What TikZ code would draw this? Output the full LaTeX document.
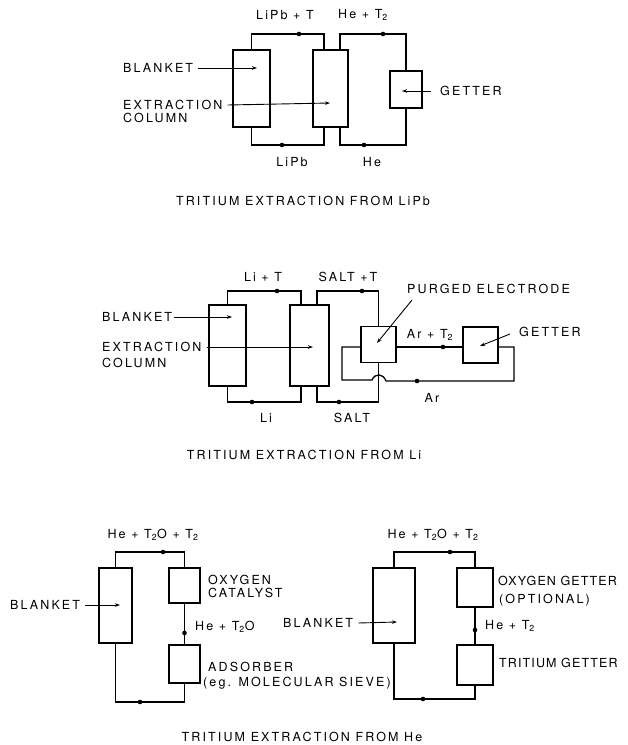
\documentclass[tikz,border=0pt]{standalone}
\usepackage{fontspec}
\setmainfont{TeX Gyre Heros}[LetterSpace=17]
\usepackage{tikz}
\usetikzlibrary{arrows.meta,positioning,calc}

\begin{document}
\begin{tikzpicture}[x=1pt,y=-1pt,
box/.style={draw,line width=1.8pt,inner sep=0pt},
lbl/.style={inner sep=0pt,font=\fontsize{12.5}{13}\selectfont},
edge lbl/.style={lbl,font=\fontsize{12.5}{13}\selectfont\addfontfeatures{LetterSpace=9}},
flow/.style={line width=1.3pt},
ptr/.style={-{Stealth[length=5pt,width=3.5pt]},line width=0.9pt},
dot/.style={circle,fill,inner sep=0pt,minimum size=4.6pt}
]
\useasboundingbox (0,0) rectangle (628,745);

% --- tritium extraction from LiPb
\node[box,minimum width=37,minimum height=77] (blk1) at (251.5,88.5) {};
\node[box,minimum width=35,minimum height=77] (col1) at (330.5,88.5) {};
\node[box,minimum width=32,minimum height=37] (get1) at (406,89.5) {};
\coordinate (t1) at (0,34);
\coordinate (b1) at (0,145);
\draw[flow] (blk1.north) |- ([xshift=-6.5]col1.north |- t1) -- ([xshift=-6.5]col1.north);
\draw[flow] ([xshift=9.5]col1.north) |- (get1.north |- t1) -- (get1.north);
\draw[flow] (blk1.south) |- ([xshift=-6.5]col1.south |- b1) -- ([xshift=-6.5]col1.south);
\draw[flow] ([xshift=9.5]col1.south) |- (get1.south |- b1) -- (get1.south);
\node[dot] at (299,34) {};
\node[dot] at (383,34) {};
\node[dot] at (282,145) {};
\node[dot] at (364,145) {};
\node[lbl] (f1a) at (285,15) {LiPb + T};
\node[lbl] (f1b) at (363,15) {He + T\textsubscript{2}};
\node[lbl] (f1c) at (292,162) {LiPb};
\node[lbl] (f1d) at (372,162) {He};
\node[lbl,anchor=west] (bl1) at (123,68) {BLANKET};
\node[lbl,anchor=west] (ex1) at (123,105) {EXTRACTION};
\node[lbl,anchor=west] (co1) at (123,118) {COLUMN};
\node[lbl,anchor=west] (gl1) at (440,91) {GETTER};
\coordinate (p1a) at (257,68);
\coordinate (p1b) at (330,103);
\coordinate (p1c) at (402,91);
\draw[ptr] ([xshift=5]bl1.east) -- (p1a);
\draw[ptr] ([xshift=5]ex1.east) -- (p1b);
\draw[ptr] ([xshift=-9]gl1.west) -- (p1c);
\node[lbl] (ttl1) at (303,201) {TRITIUM EXTRACTION FROM LiPb};

% --- tritium extraction from Li
\node[box,minimum width=37,minimum height=81] (blk2) at (227.5,345.5) {};
\node[box,minimum width=39,minimum height=81] (col2) at (309.5,345.5) {};
\node[box,minimum width=35,minimum height=36] (ele2) at (378.5,344.5) {};
\node[box,minimum width=35,minimum height=36] (get2) at (480.5,345) {};
\coordinate (t2) at (0,291);
\coordinate (b2) at (0,402);
\draw[flow] (blk2.north) |- ([xshift=-8.5]col2.north |- t2) -- ([xshift=-8.5]col2.north);
\draw[flow] ([xshift=7.5]col2.north) |- (ele2.north |- t2) -- (ele2.north);
\draw[flow] (blk2.south) |- ([xshift=-8.5]col2.south |- b2) -- ([xshift=-8.5]col2.south);
\draw[flow] ([xshift=7.5]col2.south) |- (ele2.south |- b2) -- (ele2.south);
\draw[flow] ([yshift=-2.5]ele2.east) -- ([yshift=-2]get2.west);
\draw[flow] ([yshift=-2]get2.east) -- (514,347) -- (514,381) -- (386,381)
  .. controls (383,373) and (375,373) .. (372,380) -- (342,380) |- ([yshift=-2.5]ele2.west);
\node[dot] at (277,291) {};
\node[dot] at (362,291) {};
\node[dot] at (252,402) {};
\node[dot] at (339,402) {};
\node[dot] at (443,347) {};
\node[dot] at (417,381) {};
\node[lbl] (f2a) at (263,277) {Li + T};
\node[lbl] (f2b) at (348,277) {SALT +T};
\node[lbl] (f2c) at (266,418) {Li};
\node[lbl] (f2d) at (352,418) {SALT};
\node[lbl] (f2e) at (430,335) {Ar + T\textsubscript{2}};
\node[lbl] (f2f) at (432,398) {Ar};
\node[lbl,anchor=west] (bl2) at (102,317) {BLANKET};
\node[lbl,anchor=west] (ex2) at (102,347) {EXTRACTION};
\node[lbl,anchor=west] (co2) at (102,363) {COLUMN};
\node[lbl,anchor=west] (pe2) at (407,289) {PURGED ELECTRODE};
\node[lbl,anchor=west] (gl2) at (519,332) {GETTER};
\coordinate (p2a) at (232,317);
\coordinate (p2b) at (313,347);
\coordinate (p2c) at (377,343);
\coordinate (p2d) at (480,346);
\draw[ptr] ([xshift=2]bl2.east) -- (p2a);
\draw[ptr] ([xshift=5]ex2.east) -- (p2b);
\draw[ptr] (412,300) -- (p2c);
\draw[ptr] ([xshift=-9,yshift=-2]gl2.west) -- (p2d);
\node[lbl] (ttl2) at (304,455) {TRITIUM EXTRACTION FROM Li};

% --- tritium extraction from He
\node[box,minimum width=33,minimum height=75] (blk3) at (115.5,605.5) {};
\node[box,minimum width=31,minimum height=35] (cat3) at (184.5,585.5) {};
\node[box,minimum width=31,minimum height=38] (ads3) at (184.5,664) {};
\coordinate (t3) at (0,552);
\coordinate (b3) at (0,702);
\draw[flow] (blk3.north) |- (cat3.north |- t3) -- (cat3.north);
\draw[flow] (cat3.south) -- (ads3.north);
\draw[flow] (blk3.south) |- (ads3.south |- b3) -- (ads3.south);
\node[dot] at (163,552) {};
\node[dot] at (184.5,633) {};
\node[dot] at (140,702) {};
\node[lbl] (f3a) at (153,535) {He + T\textsubscript{2}O + T\textsubscript{2}};
\node[lbl,anchor=west] (f3b) at (195,627) {He + T\textsubscript{2}O};
\node[lbl,anchor=west] (oc3) at (208,580) {OXYGEN};
\node[lbl,anchor=west] (ca3) at (208,593) {CATALYST};
\node[lbl,anchor=west] (ad3) at (208,667) {ADSORBER};
\node[lbl,anchor=west] (ms3) at (203,683) {(eg. MOLECULAR SIEVE)};
\node[lbl,anchor=west] (bl3) at (10,605) {BLANKET};
\coordinate (p3a) at (120,605);
\draw[ptr] ([xshift=5]bl3.east) -- (p3a);

\node[box,minimum width=42,minimum height=75] (blk4) at (394,605.5) {};
\node[box,minimum width=36,minimum height=39] (ogt4) at (475,587.5) {};
\node[box,minimum width=36,minimum height=40] (tgt4) at (475,665) {};
\coordinate (b4) at (0,699);
\draw[flow] (blk4.north) |- (ogt4.north |- t3) -- (ogt4.north);
\draw[flow] (ogt4.south) -- (tgt4.north);
\draw[flow] (blk4.south) |- (tgt4.south |- b4) -- (tgt4.south);
\node[dot] at (450,552) {};
\node[dot] at (475,630) {};
\node[dot] at (423,699) {};
\node[lbl] (f4a) at (433,535) {He + T\textsubscript{2}O + T\textsubscript{2}};
\node[lbl,anchor=west] (f4b) at (485,626) {He + T\textsubscript{2}};
\node[edge lbl,anchor=west] (og4) at (498,581) {OXYGEN GETTER};
\node[lbl,anchor=west] (op4) at (499,600) {(OPTIONAL)};
\node[edge lbl,anchor=west] (tg4) at (499,663) {TRITIUM GETTER};
\node[lbl,anchor=west] (bl4) at (283,623) {BLANKET};
\coordinate (p4a) at (397,622);
\draw[ptr] ([xshift=5]bl4.east) -- (p4a);
\node[lbl] (ttl3) at (302,737) {TRITIUM EXTRACTION FROM He};
\end{tikzpicture}
\end{document}
